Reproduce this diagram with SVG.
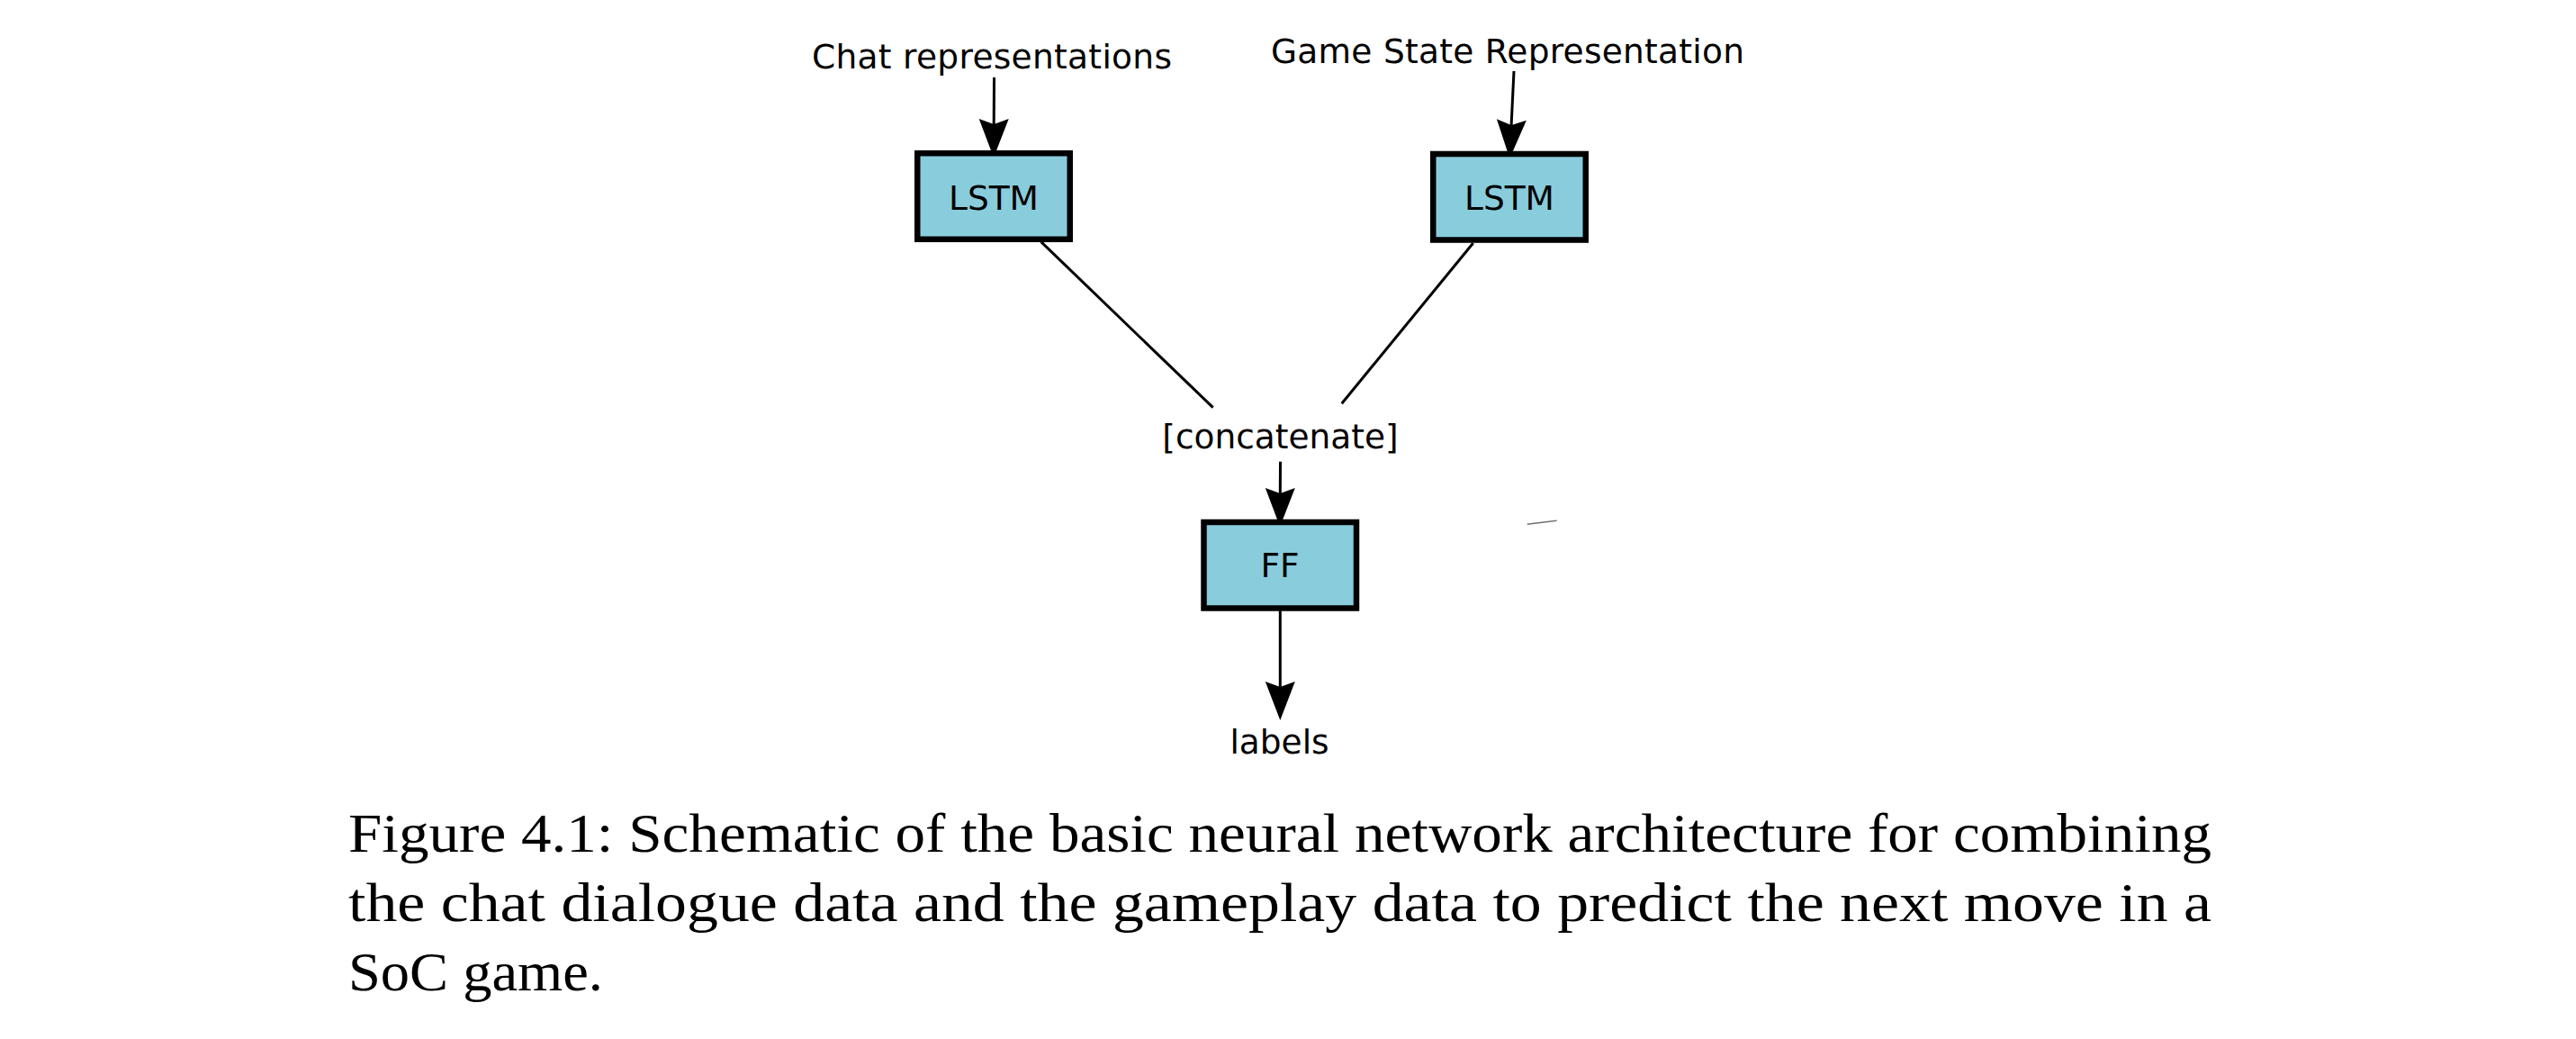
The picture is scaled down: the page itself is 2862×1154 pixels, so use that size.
<svg xmlns="http://www.w3.org/2000/svg" width="2862" height="1154" viewBox="0 0 2862 1154">
  <style>
    .bg { fill: #ffffff; }
    .box { fill: #89CCDC; stroke: #000000; stroke-width: 6.5; }
    .lbl { font-family: "DejaVu Sans", "Liberation Sans", sans-serif; font-size: 37.5px; fill: #000000; text-anchor: middle; }
    .edge { fill: none; stroke: #000000; stroke-width: 3; }
    .arrow { marker-end: url(#head); }
    .stray { fill: none; stroke: #707070; stroke-width: 1.5; }
    .cap { font-family: "Liberation Serif", "DejaVu Serif", serif; font-size: 62px; fill: #000000; }
  </style>
  <defs>
    <marker id="head" markerUnits="userSpaceOnUse" viewBox="0 -17 44 34" markerWidth="44" markerHeight="34" refX="6" refY="0" orient="auto" overflow="visible">
      <path d="M43,0 L0,-16.5 L6,0 L0,16.5 Z" fill="#000000"/>
    </marker>
  </defs>
  <rect class="bg" x="0" y="0" width="2862" height="1154"/>

  <g id="connectors">
    <line class="edge arrow" x1="1104.5" y1="86" x2="1104.2" y2="138"/>
    <line class="edge arrow" x1="1682" y1="79" x2="1679.1" y2="139"/>
    <line class="edge" x1="1156.7" y1="268.7" x2="1347.7" y2="452.7"/>
    <line class="edge" x1="1636.7" y1="270" x2="1490.7" y2="448.3"/>
    <line class="edge arrow" x1="1422.5" y1="512.7" x2="1422.3" y2="548"/>
    <line class="edge arrow" x1="1422.3" y1="678" x2="1422.3" y2="763"/>
    <line class="stray" x1="1696.7" y1="582.3" x2="1729.6" y2="578.3"/>
  </g>

  <g id="chat-input">
    <text class="lbl" x="1102" y="76" textLength="400" lengthAdjust="spacing">Chat representations</text>
  </g>
  <g id="game-input">
    <text class="lbl" x="1675" y="69.5" textLength="526" lengthAdjust="spacing">Game State Representation</text>
  </g>
  <g id="lstm-chat">
    <rect class="box" x="1019.25" y="170.25" width="169.5" height="95.5"/>
    <text class="lbl" x="1104" y="232.5">LSTM</text>
  </g>
  <g id="lstm-game">
    <rect class="box" x="1592.25" y="171" width="169.5" height="95.5"/>
    <text class="lbl" x="1677" y="233">LSTM</text>
  </g>
  <g id="concatenate">
    <text class="lbl" x="1422.5" y="498">[concatenate]</text>
  </g>
  <g id="ff">
    <rect class="box" x="1337.5" y="580" width="169.5" height="95.5"/>
    <text class="lbl" x="1422" y="641">FF</text>
  </g>
  <g id="labels">
    <text class="lbl" x="1421.5" y="837">labels</text>
  </g>

  <g id="caption">
    <text class="cap" x="387" y="946" textLength="2070" lengthAdjust="spacingAndGlyphs">Figure 4.1: Schematic of the basic neural network architecture for combining</text>
    <text class="cap" x="387" y="1023" textLength="2070" lengthAdjust="spacingAndGlyphs">the chat dialogue data and the gameplay data to predict the next move in a</text>
    <text class="cap" x="387" y="1100" textLength="283" lengthAdjust="spacingAndGlyphs">SoC game.</text>
  </g>
</svg>
